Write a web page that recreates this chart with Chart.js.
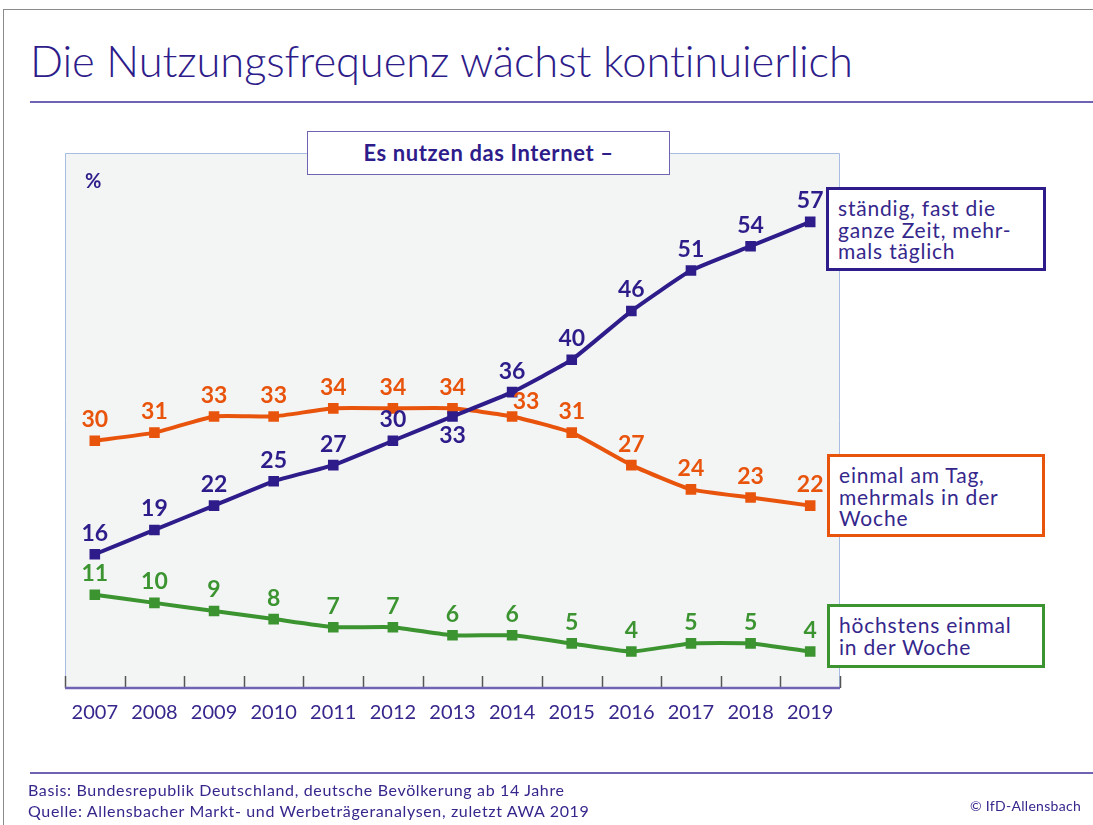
<!DOCTYPE html>
<html lang="de">
<head>
<meta charset="utf-8">
<title>Die Nutzungsfrequenz wächst kontinuierlich</title>
<script src="https://cdn.jsdelivr.net/npm/chart.js@4.4.1/dist/chart.umd.min.js"></script>
<style>
  html, body { margin: 0; padding: 0; background: #fff; }
  body { width: 1093px; height: 825px; position: relative; overflow: hidden; font-family: Lato, "Open Sans", sans-serif; color: #2e1c8a; }
  #chart { position: absolute; left: 0; top: 0; }
  .frame-top { position: absolute; left: 3px; top: 9px; right: 0; height: 1px; background: #8a8a8a; }
  .frame-left { position: absolute; left: 3px; top: 9px; bottom: 0; width: 1px; background: #8a8a8a; }
  .title { position: absolute; left: 30px; top: 34px; font-size: 43.5px; font-weight: 300; letter-spacing: -0.1px; white-space: nowrap; }
  .rule { position: absolute; left: 30px; right: 0; height: 2px; background: #6f64b4; }
  .subtitle { position: absolute; left: 307px; top: 131px; width: 361px; height: 42px; border: 1.5px solid #6f64b4; background: #fff;
    font-size: 22px; font-weight: 700; letter-spacing: 0.6px; text-align: center; line-height: 42px; }
  .pct { position: absolute; left: 85px; top: 168px; font-size: 20px; font-weight: 700; }
  .legend { position: absolute; border: 3px solid; background: #fff; font-size: 21px; letter-spacing: 0.8px; line-height: 21.5px; padding: 7px 0 0 9px; box-sizing: border-box; color: #35278c; white-space: nowrap; }
  .footer { position: absolute; left: 28px; font-size: 16px; letter-spacing: 0.65px; color: #35278c; white-space: nowrap; }
  .copy { position: absolute; left: 970px; top: 797px; font-size: 14px; letter-spacing: 0.3px; color: #35278c; }
</style>
</head>
<body>
<div class="frame-top"></div>
<div class="frame-left"></div>
<div class="title">Die Nutzungsfrequenz wächst kontinuierlich</div>
<div class="rule" style="top:101px"></div>
<canvas id="chart" width="1093" height="825"></canvas>
<div class="subtitle">Es nutzen das Internet –</div>
<div class="pct">%</div>
<div class="legend" style="left:826px;top:187px;width:220px;height:84px;border-color:#2e1c8a;">ständig, fast die<br>ganze Zeit, mehr-<br>mals täglich</div>
<div class="legend" style="left:827px;top:454px;width:218px;height:83px;border-color:#e9540d;">einmal am Tag,<br>mehrmals in der<br>Woche</div>
<div class="legend" style="left:827px;top:604px;width:218px;height:64px;border-color:#3c9431;">höchstens einmal<br>in der Woche</div>
<div class="rule" style="top:772px"></div>
<div class="footer" style="top:780px">Basis: Bundesrepublik Deutschland, deutsche Bevölkerung ab 14 Jahre</div>
<div class="footer" style="top:801px">Quelle: Allensbacher Markt- und Werbeträgeranalysen, zuletzt AWA 2019</div>
<div class="copy">© IfD-Allensbach</div>
<script>
const years = ['2007', '2008', '2009', '2010', '2011', '2012', '2013', '2014', '2015', '2016', '2017', '2018', '2019'];
const staendig = [16, 19, 22, 25, 27, 30, 33, 36, 40, 46, 51, 54, 57];
const einmalAmTag = [30, 31, 33, 33, 34, 34, 34, 33, 31, 27, 24, 23, 22];
const hoechstensWoche = [11, 10, 9, 8, 7, 7, 6, 6, 5, 4, 5, 5, 4];

const PURPLE = '#2e1c8a';
const ORANGE = '#e9540d';
const GREEN = '#3c9431';

// label nudges for the few values that sit off their usual spot (dataset index -> point index -> [dx, dy])
const labelNudge = {
  0: { 6: [0, 40] },
  1: { 7: [14, 6] },
};

const plotFrame = {
  id: 'plotFrame',
  beforeDraw(chart) {
    const { ctx, chartArea: a } = chart;
    ctx.save();
    ctx.fillStyle = '#f3f5f5';
    ctx.fillRect(a.left, a.top, a.right - a.left, a.bottom - a.top);
    ctx.strokeStyle = '#a9bde3';
    ctx.lineWidth = 1;
    ctx.beginPath();
    ctx.moveTo(a.left + 0.5, a.bottom);
    ctx.lineTo(a.left + 0.5, a.top + 0.5);
    ctx.lineTo(a.right - 0.5, a.top + 0.5);
    ctx.lineTo(a.right - 0.5, a.bottom);
    ctx.stroke();
    // tick marks between the years, pointing up into the plot
    const xs = chart.scales.x;
    const step = xs.getPixelForValue(1) - xs.getPixelForValue(0);
    ctx.strokeStyle = '#555';
    ctx.lineWidth = 1.5;
    for (let i = 0; i <= years.length; i++) {
      const x = Math.round(xs.getPixelForValue(i) - step / 2) + 0.5;
      ctx.beginPath();
      ctx.moveTo(x, a.bottom);
      ctx.lineTo(x, a.bottom - 12);
      ctx.stroke();
    }
    ctx.strokeStyle = '#6f64b4';
    ctx.lineWidth = 2.5;
    ctx.beginPath();
    ctx.moveTo(a.left, a.bottom);
    ctx.lineTo(a.right, a.bottom);
    ctx.stroke();
    ctx.restore();
  },
};

const valueLabels = {
  id: 'valueLabels',
  afterDatasetsDraw(chart) {
    const { ctx } = chart;
    ctx.save();
    ctx.font = 'bold 23px Lato, sans-serif';
    ctx.textAlign = 'center';
    ctx.textBaseline = 'middle';
    chart.data.datasets.forEach((ds, di) => {
      const meta = chart.getDatasetMeta(di);
      ctx.fillStyle = ds.borderColor;
      meta.data.forEach((pt, i) => {
        const nudge = (labelNudge[di] && labelNudge[di][i]) || [0, 0];
        ctx.fillText(String(ds.data[i]), pt.x + nudge[0], pt.y - 21 + nudge[1]);
      });
    });
    ctx.restore();
  },
};

function lineSet(label, data, color) {
  return {
    label,
    data,
    borderColor: color,
    backgroundColor: color,
    borderWidth: 4,
    tension: 0.15,
    pointStyle: 'rect',
    pointRadius: 7.5,
    pointBackgroundColor: color,
    pointBorderWidth: 0,
  };
}

new Chart(document.getElementById('chart'), {
  type: 'line',
  data: {
    labels: years,
    datasets: [
      lineSet('ständig, fast die ganze Zeit, mehrmals täglich', staendig, PURPLE),
      lineSet('einmal am Tag, mehrmals in der Woche', einmalAmTag, ORANGE),
      lineSet('höchstens einmal in der Woche', hoechstensWoche, GREEN),
    ],
  },
  options: {
    responsive: false,
    animation: false,
    layout: { autoPadding: false, padding: { left: 65, top: 153, right: 253, bottom: 87 } },
    scales: {
      x: {
        offset: true,
        grid: { display: false, drawTicks: false },
        border: { display: false },
        ticks: { color: '#35278c', font: { family: 'Lato, sans-serif', size: 20 }, padding: 13, maxRotation: 0, autoSkip: false },
        afterFit(scale) { scale.height = 50; },
      },
      y: { display: false, min: -0.5, max: 65.5 },
    },
    plugins: {
      legend: { display: false },
      tooltip: { enabled: false },
    },
  },
  plugins: [plotFrame, valueLabels],
});
</script>
</body>
</html>
